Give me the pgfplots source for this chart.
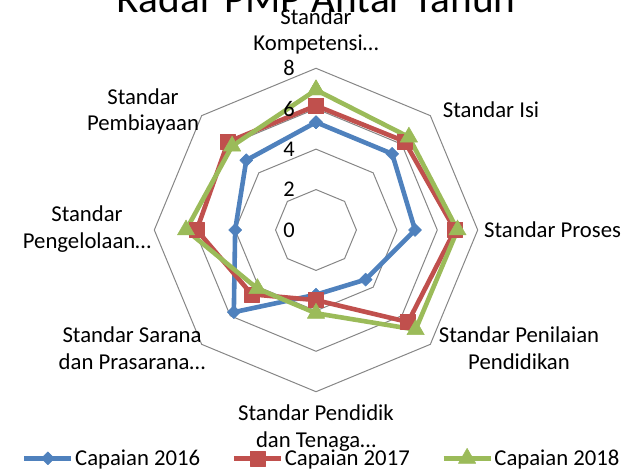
\documentclass[border=0pt]{standalone}
\usepackage{pgfplots}
\pgfplotsset{compat=1.18}
\usepgfplotslibrary{polar}
\usepackage{fontspec}
\setmainfont{Carlito}
\definecolor{c16}{HTML}{4F81BD}
\definecolor{c17}{HTML}{C0504D}
\definecolor{c18}{HTML}{9BBB59}
\definecolor{gridc}{HTML}{868686}
\tikzset{ticklab/.style={anchor=east, font=\fontsize{22.5}{27}\selectfont, inner sep=0pt, xshift=-21bp}}
\begin{document}
\begin{tikzpicture}[x=1bp,y=1bp]
\useasboundingbox (0,0) rectangle (636,472);
\clip (0,0) rectangle (636,472);
\begin{polaraxis}[
  at={(316bp,242bp)}, anchor=center,
  width=323.4bp, height=323.4bp, scale only axis,
  ymin=0, ymax=8, xmin=0, xmax=360,
  hide axis, clip=false,
  legend columns=3,
  legend style={draw=none, fill=none, at={(0.517,-0.206)}, anchor=center,
    font=\fontsize{22.8}{27}\selectfont,
    nodes={inner sep=1.5bp},
    /tikz/every even column/.append style={column sep=30bp}},
  legend cell align=left,
  legend image code/.code={\draw[mark repeat=2,mark phase=2] plot coordinates {(0bp,0bp) (23.5bp,0bp) (47bp,0bp)};},
]
\addplot[gridc, line width=1bp, mark=none, forget plot] coordinates {(0,2) (45,2) (90,2) (135,2) (180,2) (225,2) (270,2) (315,2) (360,2)};
\addplot[gridc, line width=1bp, mark=none, forget plot] coordinates {(0,4) (45,4) (90,4) (135,4) (180,4) (225,4) (270,4) (315,4) (360,4)};
\addplot[gridc, line width=1bp, mark=none, forget plot] coordinates {(0,6) (45,6) (90,6) (135,6) (180,6) (225,6) (270,6) (315,6) (360,6)};
\addplot[gridc, line width=1bp, mark=none, forget plot] coordinates {(0,8) (45,8) (90,8) (135,8) (180,8) (225,8) (270,8) (315,8) (360,8)};
\addplot[c16, line width=4.6bp, line join=round, mark=square*, mark size=4.6bp, mark options={rotate=45, fill=c16, draw=c16, line width=0.5bp}]
  coordinates {(90,5.33) (45,5.33) (0,4.9) (-45,3.47) (-90,3.2) (-135,5.75) (-180,4.0) (-225,4.88) (-270,5.33)};
\addplot[c17, line width=4.6bp, line join=round, mark=square*, mark size=7.5bp, mark options={fill=c17, draw=c17, line width=0.5bp}]
  coordinates {(90,6.15) (45,6.2) (0,6.88) (-45,6.44) (-90,3.47) (-135,4.5) (-180,5.9) (-225,6.16) (-270,6.15)};
\addplot[c18, line width=4.6bp, line join=round, mark=triangle*, mark size=10bp, mark options={fill=c18, draw=c18, line width=0.5bp}]
  coordinates {(90,6.93) (45,6.5) (0,7.0) (-45,6.97) (-90,4.12) (-135,4.1) (-180,6.43) (-225,5.87) (-270,6.93)};
\legend{Capaian 2016, Capaian 2017, Capaian 2018}
\node[ticklab] at (axis cs:90,0) {0};
\node[ticklab] at (axis cs:90,2) {2};
\node[ticklab] at (axis cs:90,4) {4};
\node[ticklab] at (axis cs:90,6) {6};
\node[ticklab] at (axis cs:90,8) {8};
\end{polaraxis}
\begin{scope}[every node/.style={align=center, font=\fontsize{22.8}{27}\selectfont, inner sep=0pt}]
\node[anchor=base] at (316,459) {\fontsize{41.5}{48}\selectfont Radar PMP Antar Tahun};
\node at (316,440.5) {Standar\\Kompetensi…};
\node at (491,362) {Standar Isi};
\node[anchor=west] at (484,242) {Standar Proses};
\node at (519,123.5) {Standar Penilaian\\Pendidikan};
\node at (316,43.5) {Standar Pendidik\\dan Tenaga…};
\node at (132,123.5) {Standar Sarana\\dan Prasarana…};
\node at (87,242.5) {Standar\\Pengelolaan…};
\node at (143,360.5) {Standar\\Pembiayaan};
\end{scope}
\end{tikzpicture}
\end{document}
